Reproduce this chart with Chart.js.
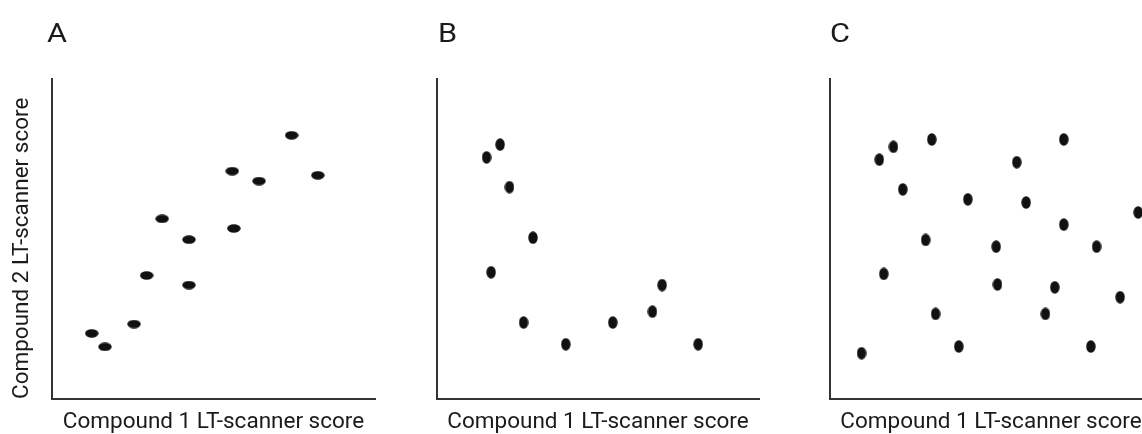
<!DOCTYPE html>
<html><head><meta charset="utf-8">
<script src="https://cdn.jsdelivr.net/npm/chart.js@4"></script>
<style>
html,body{margin:0;padding:0;width:1142px;height:434px;overflow:hidden;background:#fff;}
.panel{position:absolute;top:0;}
.letter{position:absolute;top:20px;font-family:Roboto,sans-serif;font-size:26px;line-height:26px;color:#1a1a1a;transform:scaleX(1.18);transform-origin:0 0;}
</style></head><body>
<canvas class="panel" id="ca" width="390" height="434" style="left:0px"></canvas>
<canvas class="panel" id="cb" width="355" height="434" style="left:420px"></canvas>
<canvas class="panel" id="cc" width="400" height="434" style="left:800px"></canvas>
<div class="letter" id="la" style="left:47px"></div>
<div class="letter" id="lb" style="left:438px"></div>
<div class="letter" id="lc" style="left:830px"></div>
<script>
// Panel letters / axis titles
const panelLetters = ['A', 'B', 'C'];
const xTitle = 'Compound 1 LT-scanner score';
const yTitle = 'Compound 2 LT-scanner score';

// Panel A: positive correlation
const aX = [12.3, 16.4, 25.4, 29.3, 34.1, 42.4, 42.4, 55.8, 56.3, 64.1, 74.2, 82.3];
const aY = [20.5, 16.3, 23.4, 38.6, 56.3, 49.8, 35.6, 71.2, 53.3, 68.1, 82.4, 69.9];

// Panel B: negative / L-shaped relationship
const bX = [15.4, 19.6, 22.5, 29.8, 16.8, 26.9, 40.0, 54.6, 66.9, 69.9, 81.1];
const bY = [75.5, 79.5, 66.2, 50.4, 39.6, 23.9, 17.1, 23.9, 27.3, 35.6, 17.1];

// Panel C: no correlation
const cX = [9.8, 15.3, 19.7, 22.6, 31.6, 29.7, 16.7, 32.8, 40.0, 42.8, 51.6, 52.0, 58.0, 60.9, 72.6, 72.6, 69.8, 66.9, 82.8, 90.1, 81.0, 95.7];
const cY = [14.3, 74.8, 78.8, 65.5, 81.1, 49.7, 39.1, 26.6, 16.4, 62.4, 47.6, 35.8, 74.0, 61.4, 81.1, 54.5, 34.9, 26.6, 47.6, 31.8, 16.4, 58.3];

['la', 'lb', 'lc'].forEach((id, i) => { document.getElementById(id).textContent = panelLetters[i]; });

function dot(w, h) {
  const c = document.createElement('canvas');
  c.width = w; c.height = h;
  const g = c.getContext('2d');
  g.fillStyle = '#111';
  g.beginPath();
  g.ellipse(w / 2, h / 2, w / 2 - 0.3, h / 2 - 0.3, 0, 0, Math.PI * 2);
  g.fill();
  return c;
}

function makeChart(id, xs, ys, style, yWidth, showY, padRight) {
  const pts = xs.map((x, i) => ({x: x, y: ys[i]}));
  return new Chart(document.getElementById(id), {
    type: 'scatter',
    data: {datasets: [{data: pts, pointStyle: style, pointRadius: 7, backgroundColor: '#111', borderWidth: 0}]},
    options: {
      responsive: false,
      animation: false,
      events: [],
      layout: {padding: {top: 79, right: padRight, bottom: 0, left: 0}},
      plugins: {legend: {display: false}, tooltip: {enabled: false}},
      scales: {
        x: {
          type: 'linear', min: 0, max: 100,
          grid: {display: false},
          ticks: {display: false},
          border: {display: true, color: '#333', width: 2},
          title: {display: true, text: xTitle, color: '#1a1a1a',
                  font: {family: 'Roboto', size: 22.5}, padding: {top: 0, bottom: -2}},
          afterFit: s => { s.height = 35; }
        },
        y: {
          type: 'linear', min: 0, max: 100,
          grid: {display: false},
          ticks: {display: false},
          border: {display: true, color: '#333', width: 2},
          title: {display: showY, text: yTitle, color: '#1a1a1a', align: 'start',
                  font: {family: 'Roboto', size: 22.5}, padding: {top: 8.5, bottom: 0}},
          afterFit: s => { s.width = yWidth; }
        }
      }
    }
  });
}

makeChart('ca', aX, aY, dot(14, 9), 52, true, 15);
makeChart('cb', bX, bY, dot(10, 13), 17, false, 16);
makeChart('cc', cX, cY, dot(10, 13), 30, false, 48);
</script>
</body></html>
